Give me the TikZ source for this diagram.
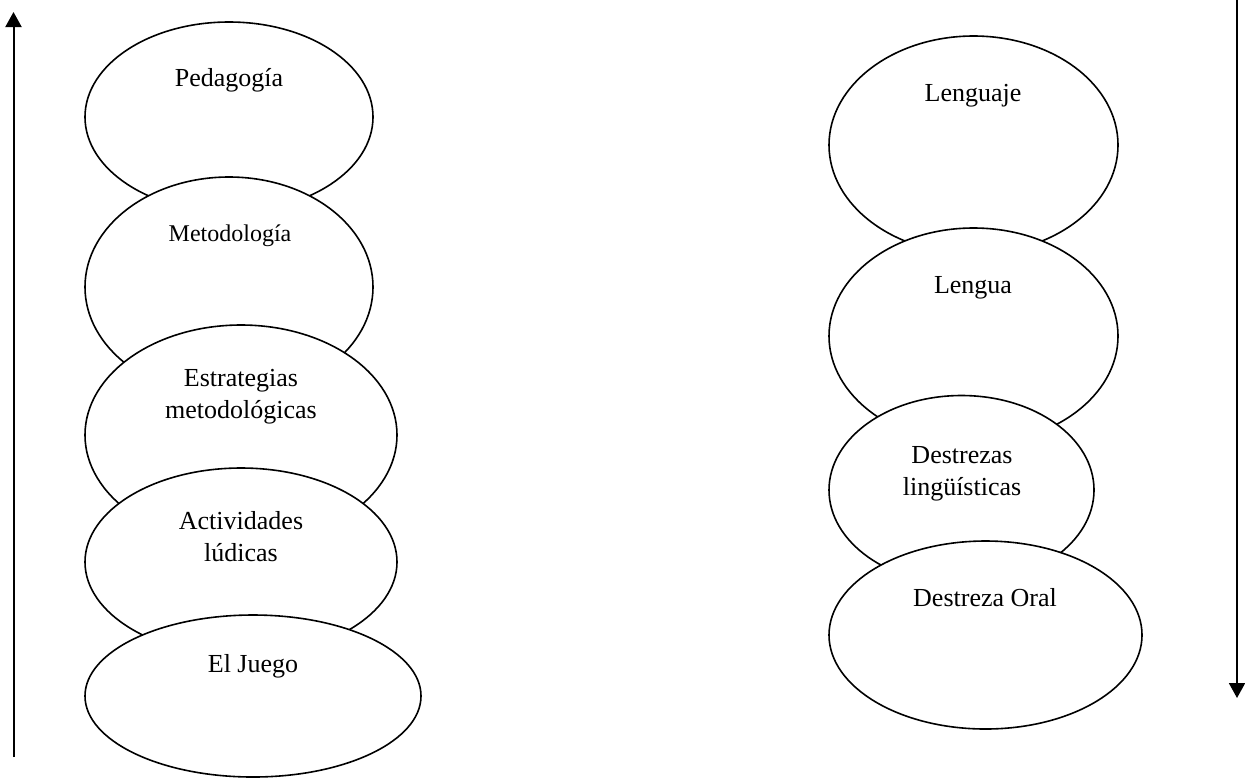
\documentclass[tikz,border=0pt]{standalone}
\usepackage{fontspec}
\setmainfont{Liberation Serif}
\usetikzlibrary{shapes.geometric,arrows.meta}
\begin{document}
\begin{tikzpicture}[x=0.5pt,y=-0.5pt,
  ell/.style={ellipse,draw=black,fill=white,line width=0.8pt,inner sep=0pt},
  lbl/.style={inner sep=0pt,align=center,font=\fontsize{13}{16}\selectfont},
  axis/.style={line width=1pt,-{Triangle[length=7.5pt,width=8pt]}}]
\useasboundingbox (0,0) rectangle (1245,778);
% left column
\node[ell,minimum width=144pt,minimum height=95pt] (ped) at (229,117) {};
\node[ell,minimum width=144pt,minimum height=110pt] (met) at (229,287) {};
\node[ell,minimum width=156pt,minimum height=110pt] (est) at (241,435) {};
\node[ell,minimum width=156pt,minimum height=94pt] (act) at (241,562) {};
\node[ell,minimum width=168pt,minimum height=81pt] (jue) at (253,696) {};
\node[lbl] (tped) at (229,80) {Pedagogía};
\node[lbl,font=\fontsize{12}{14}\selectfont] (tmet) at (230,236) {Metodología};
\node[lbl] (test) at (241,397) {Estrategias\\metodológicas};
\node[lbl] (tact) at (241,537) {Actividades\\lúdicas};
\node[lbl] (tjue) at (253,666) {El Juego};
% right column
\node[ell,minimum width=144.5pt,minimum height=109pt] (lgj) at (973.5,145) {};
\node[ell,minimum width=144.5pt,minimum height=108pt] (lga) at (973.5,336) {};
\node[ell,minimum width=132.5pt,minimum height=94.5pt] (des) at (961.5,490) {};
\node[ell,minimum width=156.5pt,minimum height=94pt] (ora) at (985.5,635) {};
\node[lbl] (tlgj) at (973,96) {Lenguaje};
\node[lbl] (tlga) at (973,288) {Lengua};
\node[lbl] (tdes) at (962,474) {Destrezas\\lingüísticas};
\node[lbl] (tora) at (985,598) {Destreza Oral};
% arrows
\coordinate (la) at (13.5,757);
\coordinate (lb) at (13.5,12);
\coordinate (ra) at (1237,0);
\coordinate (rb) at (1237,698);
\draw[axis] (la) -- (lb);
\draw[axis] (ra) -- (rb);
\end{tikzpicture}
\end{document}
